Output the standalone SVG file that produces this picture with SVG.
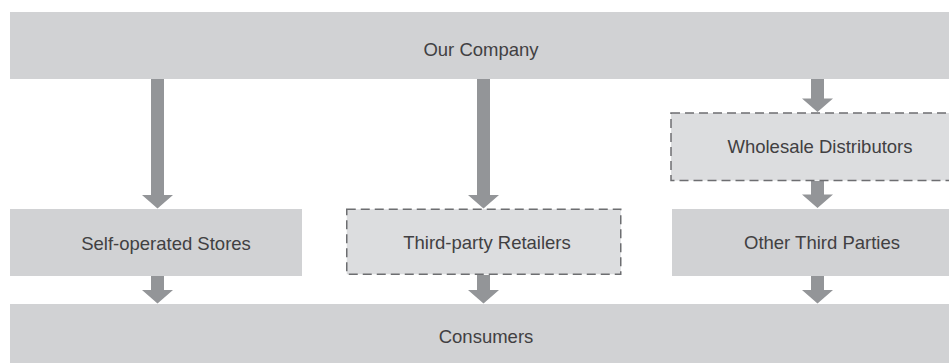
<svg xmlns="http://www.w3.org/2000/svg" width="949" height="363" viewBox="0 0 949 363">
  <style>
    .box { fill: #d1d2d4; }
    .dashed { fill: #dcdddf; stroke: #6d6e71; stroke-width: 1.5; stroke-dasharray: 9 5; }
    .label { font-family: "Liberation Sans", Arial, sans-serif; font-size: 18.5px; fill: #414042; text-anchor: middle; }
    .arrow { fill: #939598; }
  </style>
  <rect width="949" height="363" fill="#ffffff"/>

  <g id="connectors">
    <!-- Our Company -> Self-operated Stores -->
    <path class="arrow" d="M151,79 H164 V195 H173 L157.5,208.5 L142,195 H151 Z"/>
    <!-- Our Company -> Third-party Retailers -->
    <path class="arrow" d="M477,79 H490 V195 H499 L483.5,208.5 L468,195 H477 Z"/>
    <!-- Our Company -> Wholesale Distributors -->
    <path class="arrow" d="M811,79 H824 V98.5 H833 L817.5,112 L802,98.5 H811 Z"/>
    <!-- Wholesale Distributors -> Other Third Parties -->
    <path class="arrow" d="M811,181 H824 V194.5 H833 L817.5,208 L802,194.5 H811 Z"/>
    <!-- Self-operated Stores -> Consumers -->
    <path class="arrow" d="M151,276 H164 V290 H173 L157.5,303.5 L142,290 H151 Z"/>
    <!-- Third-party Retailers -> Consumers -->
    <path class="arrow" d="M477,275 H490 V290 H499 L483.5,303.5 L468,290 H477 Z"/>
    <!-- Other Third Parties -> Consumers -->
    <path class="arrow" d="M811,276 H824 V290 H833 L817.5,303.5 L802,290 H811 Z"/>
  </g>

  <g id="our-company">
    <rect class="box" x="10" y="12" width="939" height="67"/>
    <text class="label" x="481" y="55.5">Our Company</text>
  </g>

  <g id="wholesale-distributors">
    <rect class="dashed" x="671" y="113" width="290" height="67.5"/>
    <text class="label" x="820" y="153">Wholesale Distributors</text>
  </g>

  <g id="self-operated-stores">
    <rect class="box" x="10" y="209" width="292" height="67"/>
    <text class="label" x="166" y="249.5">Self-operated Stores</text>
  </g>

  <g id="third-party-retailers">
    <rect class="dashed" x="346.75" y="209.25" width="274" height="65"/>
    <text class="label" x="487" y="249">Third-party Retailers</text>
  </g>

  <g id="other-third-parties">
    <rect class="box" x="672" y="209" width="277" height="67"/>
    <text class="label" x="822" y="248.5">Other Third Parties</text>
  </g>

  <g id="consumers">
    <rect class="box" x="10" y="304" width="939" height="59"/>
    <text class="label" x="486" y="343">Consumers</text>
  </g>
</svg>
